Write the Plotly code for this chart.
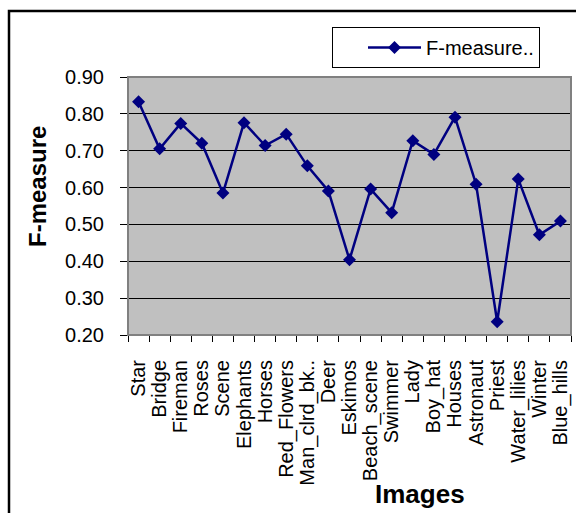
import plotly.graph_objects as go

# F-measure per test image
images = ["Star", "Bridge", "Fireman", "Roses", "Scene", "Elephants", "Horses",
          "Red_Flowers", "Man_clrd_bk..", "Deer", "Eskimos", "Beach_scene",
          "Swimmer", "Lady", "Boy_hat", "Houses", "Astronaut", "Priest",
          "Water_lilies", "Winter", "Blue_hills"]
f_measure = [0.833, 0.705, 0.774, 0.720, 0.585, 0.776, 0.714, 0.745, 0.659,
             0.591, 0.404, 0.596, 0.532, 0.727, 0.690, 0.791, 0.609, 0.236,
             0.623, 0.472, 0.509]
series_name = "F-measure.."
y_ticks = [0.2, 0.3, 0.4, 0.5, 0.6, 0.7, 0.8, 0.9]

FONT = "Liberation Sans, Arial, sans-serif"
W, H = 576, 513
L, R, T, B = 128, 5, 77, 178
pw, ph = W - L - R, H - T - B


def px_x(x):
    return (x - L) / pw


def px_y(y):
    return (H - B - y) / ph


fig = go.Figure()
fig.add_trace(go.Scatter(
    x=images, y=f_measure, name=series_name, mode="lines+markers",
    line=dict(color="#000080", width=2.5),
    marker=dict(symbol="diamond", size=10, color="#000080"),
))

fig.update_layout(
    width=W, height=H,
    margin=dict(l=L, r=R, t=T, b=B, pad=0),
    paper_bgcolor="white", plot_bgcolor="#C0C0C0",
    font=dict(family=FONT, size=20, color="black"),
    showlegend=True,
    legend=dict(
        x=px_x(332), y=px_y(27), xanchor="left", yanchor="top",
        bgcolor="white", bordercolor="black", borderwidth=1,
        font=dict(size=20), itemwidth=53, indentation=30,
    ),
    xaxis=dict(
        type="category", range=[-0.5, len(images) - 0.5],
        tickmode="array", tickvals=images, ticktext=images,
        tickangle=-90, tickson="boundaries", ticks="outside", ticklen=6,
        tickcolor="black", showline=True, linecolor="black", linewidth=1,
        showgrid=False, ticklabelstandoff=16,
        tickfont=dict(size=20),
    ),
    yaxis=dict(
        range=[0.2, 0.9], tickvals=y_ticks, tickformat=".2f",
        ticks="outside", ticklen=7, tickcolor="black",
        showline=True, linecolor="#404040", linewidth=1,
        showgrid=True, gridcolor="black", gridwidth=1,
        ticklabelstandoff=12, tickfont=dict(size=20), zeroline=False,
    ),
    shapes=[
        # plot-area frame
        dict(type="rect", xref="paper", yref="paper", x0=0, x1=1, y0=0, y1=1,
             line=dict(color="#808080", width=2), layer="above"),
        # outer chart frame (runs past the right and bottom edges)
        dict(type="rect", xref="paper", yref="paper",
             x0=px_x(9), x1=px_x(600), y0=px_y(530), y1=px_y(11),
             line=dict(color="black", width=2.5)),
    ],
    annotations=[
        dict(text="<b>F-measure</b>", xref="paper", yref="paper",
             x=px_x(37), y=px_y(187), textangle=-90, showarrow=False,
             font=dict(size=24), xanchor="center", yanchor="middle"),
        dict(text="<b>Images</b>", xref="paper", yref="paper",
             x=px_x(420), y=px_y(494), showarrow=False,
             font=dict(size=26), xanchor="center", yanchor="middle"),
    ],
)

fig.write_html("out.html")
